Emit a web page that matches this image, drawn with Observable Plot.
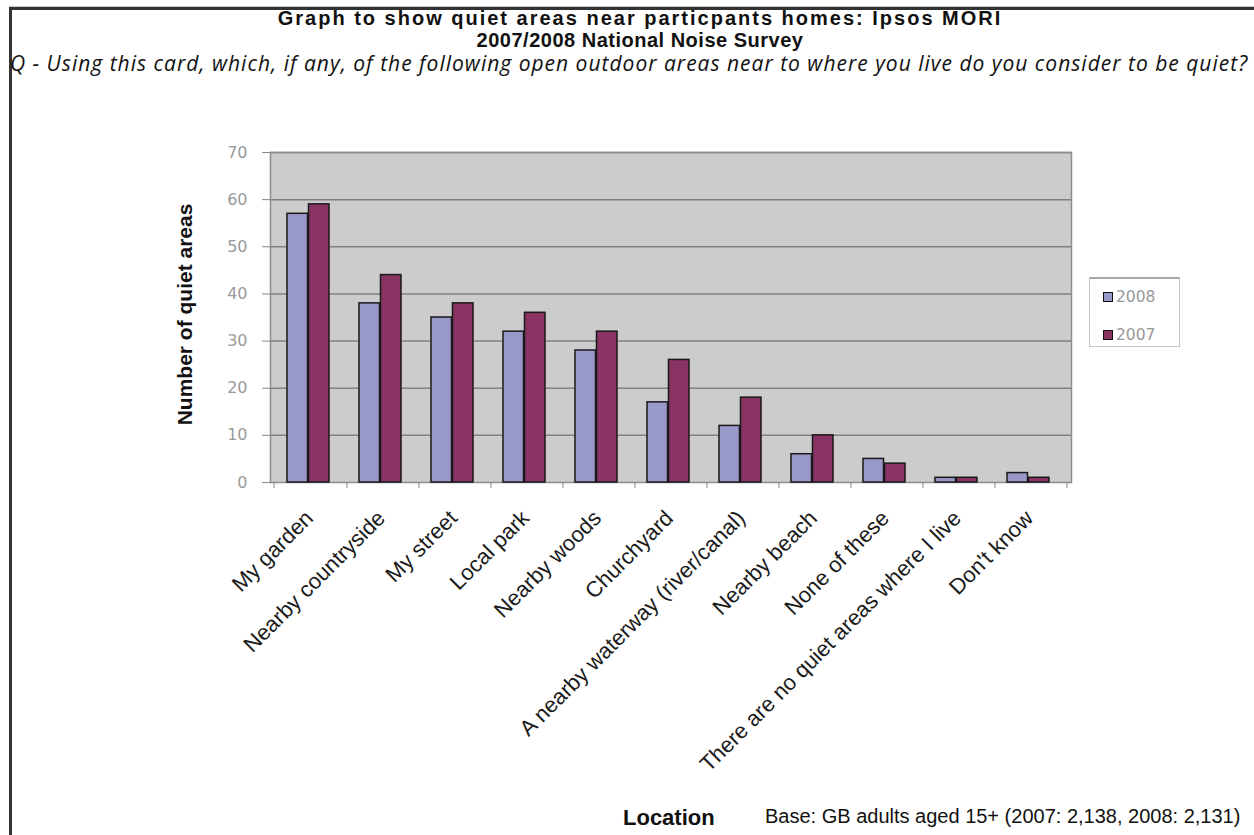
<!DOCTYPE html>
<html>
<head>
<meta charset="utf-8">
<script src="https://cdn.jsdelivr.net/npm/d3@7"></script>
<script src="https://cdn.jsdelivr.net/npm/@observablehq/plot@0.6"></script>
<style>
  html, body { margin: 0; padding: 0; background: #fff; }
  body { width: 1254px; height: 835px; position: relative; overflow: hidden; font-family: "Liberation Sans", Arial, sans-serif; }
  #frame { position: absolute; left: 9px; top: 7px; width: 1400px; height: 1000px; border-top: 3px solid #333; border-left: 3px solid #333; box-shadow: 0 -1px 0 #c8c8c8; }
  #title { position: absolute; left: 0; width: 1280px; top: 7px; text-align: center; font-weight: bold; font-size: 20px; line-height: 22px; color: #111; }
  #title .l1 { letter-spacing: 2px; }
  #title .l2 { letter-spacing: 0.5px; }
  #subtitle { position: absolute; left: 10px; top: 49px; white-space: nowrap; font-family: "Open Sans", sans-serif; font-style: italic; font-size: 21px; letter-spacing: 1px; color: #111; }
  #chart { position: absolute; left: 0; top: 100px; }
  #legend { position: absolute; left: 1089px; top: 277px; width: 89px; height: 67px; border: 1px solid #c4c4c4; border-top: 2px solid #a8a8a8; background: #fff; }
  .li { position: absolute; left: 13px; font-family: "DejaVu Sans", sans-serif; font-size: 15.5px; color: #999; display: flex; align-items: center; }
  .sw { width: 8px; height: 8px; border: 1.5px solid #111; margin-right: 3px; }
  #xtitle { position: absolute; left: 623px; top: 805px; font-weight: bold; font-size: 22px; color: #111; }
  #caption { position: absolute; left: 765px; top: 805px; font-size: 20px; color: #111; white-space: nowrap; }
</style>
</head>
<body>
<div id="frame"></div>
<div id="title"></div>
<div id="subtitle"></div>
<div id="chart"></div>
<div id="legend"></div>
<div id="xtitle"></div>
<div id="caption"></div>
<script>
const categories = ["My garden", "Nearby countryside", "My street", "Local park", "Nearby woods", "Churchyard", "A nearby waterway (river/canal)", "Nearby beach", "None of these", "There are no quiet areas where I live", "Don't know"];
const values2008 = [57, 38, 35, 32, 28, 17, 12, 6, 5, 1, 2];
const values2007 = [59, 44, 38, 36, 32, 26, 18, 10, 4, 1, 1];
const seriesNames = ["2008", "2007"];
const seriesColors = ["#9898c9", "#883362"];
const yTicks = [0, 10, 20, 30, 40, 50, 60, 70];
const titleLines = ["Graph to show quiet areas near particpants homes: Ipsos MORI", "2007/2008 National Noise Survey"];
const subtitleText = "Q - Using this card, which, if any, of the following open outdoor areas near to where you live do you consider to be quiet?";
const yTitle = "Number of quiet areas";
const xTitle = "Location";
const captionText = "Base: GB adults aged 15+ (2007: 2,138, 2008: 2,131)";

const titleEl = document.getElementById("title");
titleLines.forEach((t, i) => {
  const d = document.createElement("div");
  d.className = "l" + (i + 1);
  d.textContent = t;
  titleEl.appendChild(d);
});
document.getElementById("subtitle").textContent = subtitleText;
document.getElementById("xtitle").textContent = xTitle;
document.getElementById("caption").textContent = captionText;

const legend = document.getElementById("legend");
seriesNames.forEach((s, i) => {
  const d = document.createElement("div");
  d.className = "li";
  d.style.top = (i === 0 ? 9 : 47) + "px";
  d.innerHTML = `<span class="sw" style="background:${seriesColors[i]}"></span>${s}`;
  legend.appendChild(d);
});

const data = categories.map((c, i) => ({category: c, v2008: values2008[i], v2007: values2007[i]}));

const W = 1254, H = 700, mL = 270, mR = 183, mT = 52, mB = 318;
const step = (W - mL - mR) / categories.length;
const bw = step * (1 - 0.41);

const chart = Plot.plot({
  width: W,
  height: H,
  marginLeft: mL,
  marginRight: mR,
  marginTop: mT,
  marginBottom: mB,
  x: {domain: categories, paddingInner: 0.41, paddingOuter: 0.205, axis: null},
  y: {domain: [0, 70], axis: null},
  style: {fontFamily: "Liberation Sans, Arial, sans-serif", background: "transparent", overflow: "visible"},
  marks: [
    Plot.frame({fill: "#cccccc", stroke: null}),
    Plot.gridY(yTicks.slice(1), {stroke: "#808080", strokeOpacity: 1, strokeWidth: 1.5}),
    Plot.frame({stroke: "#8c8c8c", strokeWidth: 1.5}),
    Plot.barY(data, {x: "category", y: "v2008", fill: seriesColors[0], stroke: "#1a1a1a", strokeWidth: 1.5, insetLeft: 0, insetRight: bw / 2, dx: -2}),
    Plot.barY(data, {x: "category", y: "v2007", fill: seriesColors[1], stroke: "#1a1a1a", strokeWidth: 1.5, insetLeft: bw / 2, insetRight: 0, dx: -2}),
    Plot.axisY({ticks: yTicks, tickSize: 8, tickPadding: 15, stroke: "#888", fill: "#9a9a9a", fontSize: 16, fontFamily: "DejaVu Sans, sans-serif", label: null}),
    Plot.axisX({tickSize: 6, text: null, dx: step / 2, stroke: "#888", label: null}),
    Plot.axisX({ticks: [categories[0]], tickSize: 6, text: null, dx: -step / 2, stroke: "#888", label: null}),
    Plot.text(categories, {x: d => d, frameAnchor: "bottom", rotate: -45, textAnchor: "end", lineAnchor: "middle", dx: -1, dy: 32, fontSize: 22, fill: "#1a1a1a"}),
    Plot.text([yTitle], {frameAnchor: "left", rotate: -90, textAnchor: "middle", dx: -85, dy: -3, fontWeight: "bold", fontSize: 21, fill: "#111"})
  ]
});
document.getElementById("chart").appendChild(chart);
</script>
</body>
</html>
